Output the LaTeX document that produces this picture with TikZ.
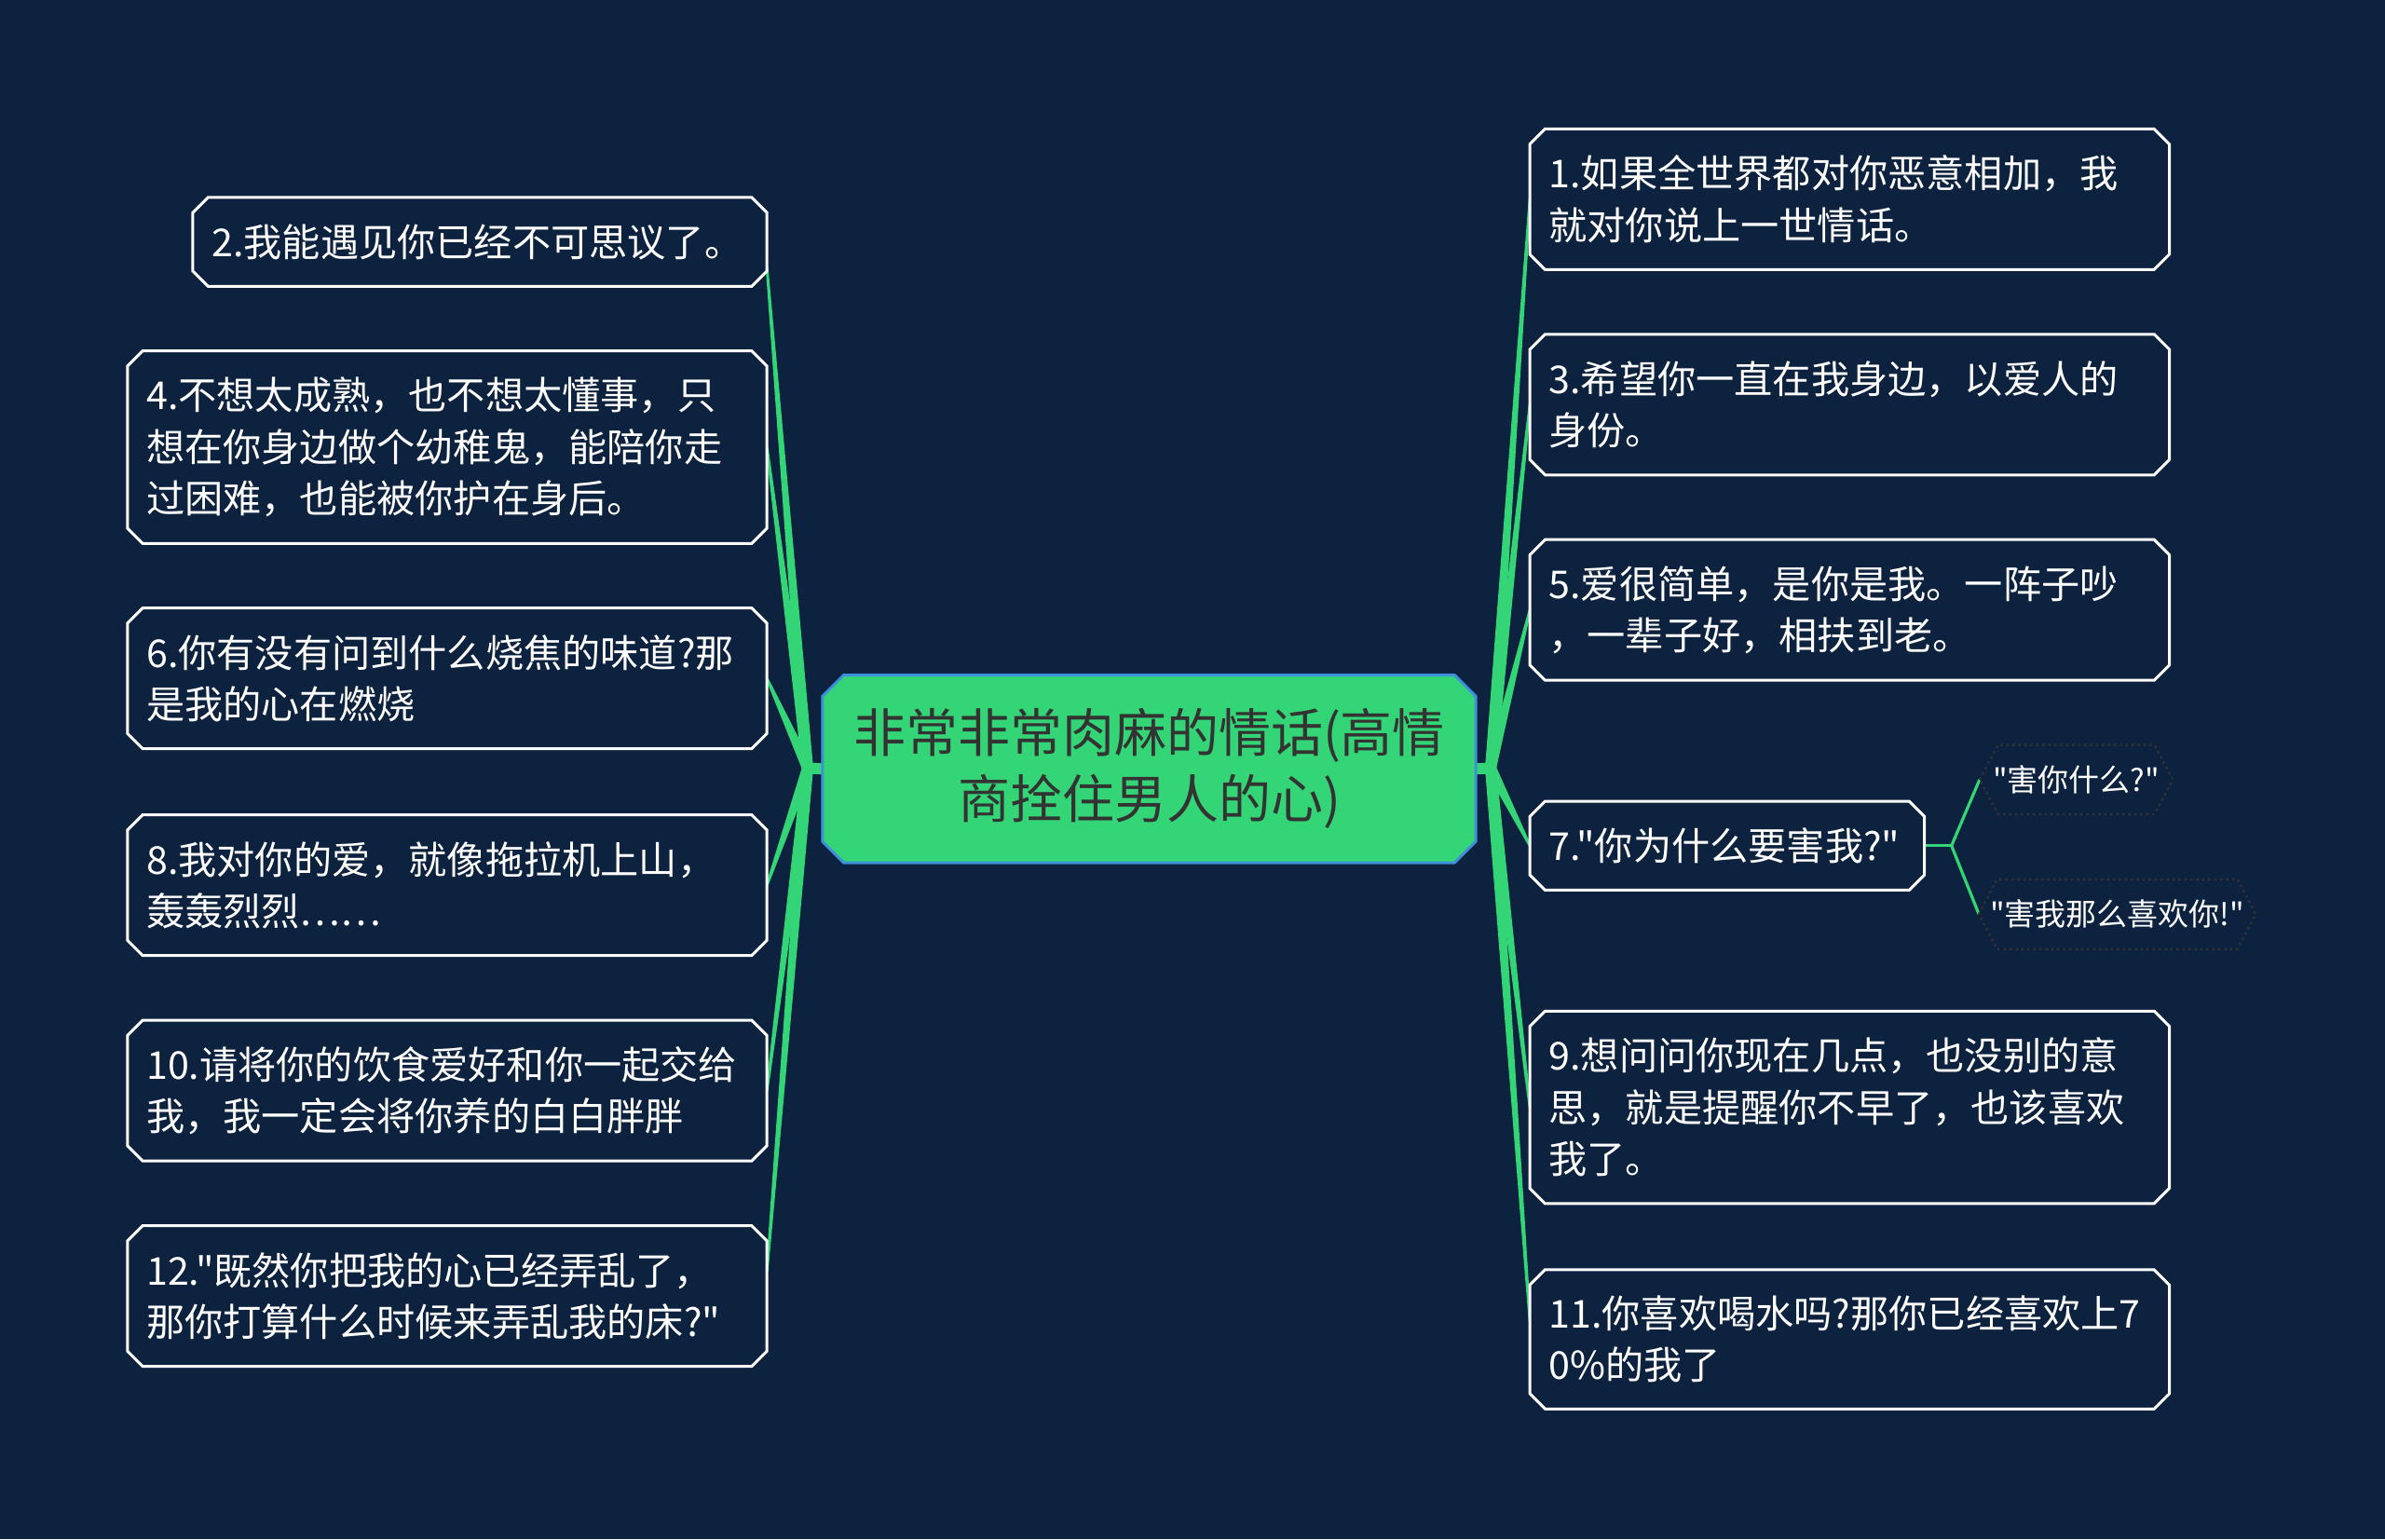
\documentclass[tikz,border=0pt]{standalone}
\usepackage{fontspec}
\newfontfamily\cjk{Noto Sans CJK SC}
\usetikzlibrary{calc}
\pgfdeclarelayer{back}
\pgfsetlayers{back,main}
\definecolor{bgc}{HTML}{0C223E}
\definecolor{brc}{HTML}{33D576}
\definecolor{ctrborder}{HTML}{3F8FDB}
\definecolor{ctrtext}{HTML}{333333}
% octagon (chamfered box) around a node: #1 node, #2 chamfer, #3 style
\newcommand\octbox[3]{%
  \path[#3] ($(#1.north west)+(#2,0)$) -- ($(#1.north east)+(-#2,0)$) -- ($(#1.north east)+(0,#2)$) -- ($(#1.south east)+(0,-#2)$) -- ($(#1.south east)+(-#2,0)$) -- ($(#1.south west)+(#2,0)$) -- ($(#1.south west)+(0,-#2)$) -- ($(#1.north west)+(0,#2)$) -- cycle;}
% hexagon around a node
\newcommand\hexbox[3]{%
  \path[#3] (#1.west) -- ($(#1.north west)+(#2,0)$) -- ($(#1.north east)+(-#2,0)$) -- (#1.east) -- ($(#1.south east)+(-#2,0)$) -- ($(#1.south west)+(#2,0)$) -- cycle;}
% tapered branch from #1 to #2
\newcommand\taper[2]{%
  \fill[brc] ($(#1)!3pt!90:(#2)$) -- ($(#2)!0.7pt!-90:(#1)$) -- ($(#2)!0.7pt!90:(#1)$) -- ($(#1)!3pt!-90:(#2)$) -- cycle;}
\begin{document}
\begin{tikzpicture}[x=0.8163pt,y=-0.8163pt,
  leaf/.style={text=white, font=\cjk\fontsize{20.6}{27.75}\selectfont, align=left, inner xsep=10pt, inner ysep=0pt},
  ctr/.style={text=ctrtext, font=\cjk\fontsize{28}{35.5}\selectfont, align=center, inner sep=0pt, minimum width=350.2pt, minimum height=100.4pt},
  kid/.style={text=white, font=\cjk\fontsize{16.5}{20}\selectfont, inner sep=0pt},
  stub/.style={draw=brc, line width=6pt},
  thin/.style={draw=brc, line width=1.6pt},
  leafbox/.style={fill=bgc, draw=white, line width=1.5pt},
  kidbox/.style={fill=bgc, draw=black!80, line width=1.2pt, dotted}]
\useasboundingbox (0,0) rectangle (1568,1012);
% center
\node[ctr] (c) at (755.5,505.5) {非常非常肉麻的情话(高情\\商拴住男人的心)};
% left
\node[leaf, text width=287.7pt, minimum height=47.3pt] (n2) at (315.5,159) {2.我能遇见你已经不可思议了。};
\node[leaf, text width=322.8pt, minimum height=102.9pt] (n4) at (294,294) {4.不想太成熟，也不想太懂事，只\\想在你身边做个幼稚鬼，能陪你走\\过困难，也能被你护在身后。};
\node[leaf, text width=322.8pt, minimum height=75.1pt] (n6) at (294,446) {6.你有没有问到什么烧焦的味道?那\\是我的心在燃烧};
\node[leaf, text width=322.8pt, minimum height=75.1pt] (n8) at (294,582) {8.我对你的爱，就像拖拉机上山，\\轰轰烈烈……};
\node[leaf, text width=322.8pt, minimum height=75.1pt] (n10) at (294,717) {10.请将你的饮食爱好和你一起交给\\我，我一定会将你养的白白胖胖};
\node[leaf, text width=322.8pt, minimum height=75.1pt] (n12) at (294,852) {12."既然你把我的心已经弄乱了，\\那你打算什么时候来弄乱我的床?"};
% right
\node[leaf, text width=322.8pt, minimum height=75.1pt] (n1) at (1216,131) {1.如果全世界都对你恶意相加，我\\就对你说上一世情话。};
\node[leaf, text width=322.8pt, minimum height=75.1pt] (n3) at (1216,266) {3.希望你一直在我身边，以爱人的\\身份。};
\node[leaf, text width=322.8pt, minimum height=75.1pt] (n5) at (1216,401) {5.爱很简单，是你是我。一阵子吵\\，一辈子好，相扶到老。};
\node[leaf, text width=191.4pt, minimum height=47.3pt] (n7) at (1135.5,556) {7."你为什么要害我?"};
\node[leaf, text width=322.8pt, minimum height=102.9pt] (n9) at (1216,728) {9.想问问你现在几点，也没别的意\\思，就是提醒你不早了，也该喜欢\\我了。};
\node[leaf, text width=322.8pt, minimum height=74.3pt] (n11) at (1216,880.5) {11.你喜欢喝水吗?那你已经喜欢上7\\0\%的我了};
% children of 7
\node[kid, minimum width=103.3pt, minimum height=36.7pt] (k1) at (1365,512.5) {"害你什么?"};
\node[kid, minimum width=148.2pt, minimum height=37.1pt] (k2) at (1392,601) {"害我那么喜欢你!"};
\begin{pgfonlayer}{back}
  \fill[bgc] (0,0) rectangle (1568,1012);
  \coordinate (JL) at (531,505);
  \coordinate (JR) at (980,505);
  \coordinate (J7) at (1283,556);
  \coordinate (e2) at ($(n2.east)+(0,17)$);
  \coordinate (e12) at ($(n12.east)+(0,-16)$);
  \coordinate (e11) at ($(n11.west)+(0,-12)$);
  \draw[stub] (c.west) -- (JL);
  \draw[stub] (c.east) -- (JR);
  \taper{JL}{e2}
  \taper{JL}{n4.east}
  \taper{JL}{n6.east}
  \taper{JL}{n8.east}
  \taper{JL}{n10.east}
  \taper{JL}{e12}
  \taper{JR}{n1.west}
  \taper{JR}{n3.west}
  \taper{JR}{n5.west}
  \taper{JR}{n7.west}
  \taper{JR}{n9.west}
  \taper{JR}{e11}
  \draw[thin] (n7.east) -- (J7);
  \draw[thin] (J7) -- (k1.west);
  \draw[thin] (J7) -- (k2.west);
  \octbox{c}{14}{fill=brc, draw=ctrborder, line width=1.5pt}
  \foreach \n in {n1,n2,n3,n4,n5,n6,n7,n8,n9,n10,n11,n12} {\octbox{\n}{10}{leafbox}}
  \hexbox{k1}{12}{kidbox}
  \hexbox{k2}{12}{kidbox}
\end{pgfonlayer}
\end{tikzpicture}
\end{document}
